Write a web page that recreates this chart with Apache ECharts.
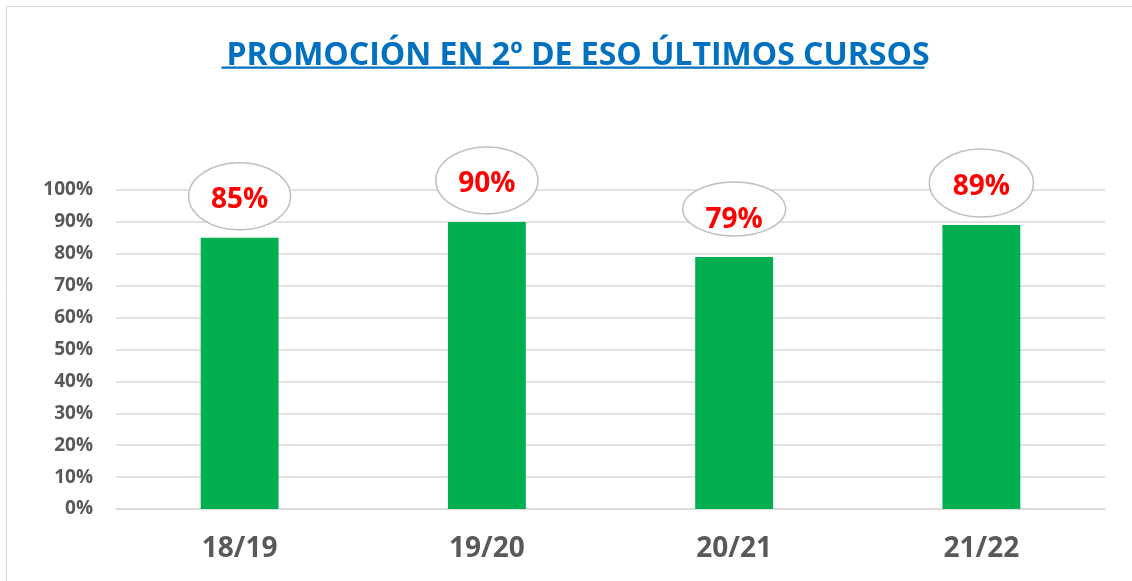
<!DOCTYPE html>
<html>
<head>
<meta charset="utf-8">
<script src="https://cdn.jsdelivr.net/npm/echarts@6/dist/echarts.min.js"></script>
<style>
  html, body { margin: 0; padding: 0; background: #fff; }
  #chart { width: 1132px; height: 581px; }
</style>
</head>
<body>
<div id="chart"></div>
<script>
// ---- data ----
const titleText = 'PROMOCIÓN EN 2º DE ESO ÚLTIMOS CURSOS';
const categories = ['18/19', '19/20', '20/21', '21/22'];
const promotion = [85, 90, 79, 89];

// ---- label ellipse styling (per bar) ----
const ellipseStyle = [
  { rx: 51, ry: 33.5, lift: 41.5, textLift: 41.5 },
  { rx: 51, ry: 33.5, lift: 41.5, textLift: 41.5 },
  { rx: 51.5, ry: 27, lift: 48, textLift: 40 },
  { rx: 52, ry: 34, lift: 42, textLift: 42 }
];

const FONT = '"Open Sans", "Noto Sans", sans-serif';
const chart = echarts.init(document.getElementById('chart'), null, { renderer: 'canvas' });

// measure title width for underline
const cv = document.createElement('canvas').getContext('2d');
cv.font = '700 32px "Open Sans"';
const titleW = cv.measureText(titleText).width;
const titleCX = 573;

const option = {
  backgroundColor: '#ffffff',
  animation: false,
  title: {
    text: titleText,
    left: titleCX,
    top: 35,
    textAlign: 'center',
    textStyle: { color: '#0070C0', fontFamily: FONT, fontWeight: 'bold', fontSize: 32 }
  },
  graphic: [
    {
      type: 'rect', silent: true,
      shape: { x: 6.5, y: 6.5, width: 1300, height: 800 },
      style: { fill: 'none', stroke: '#d9d9d9', lineWidth: 1 }
    },
    {
      type: 'rect', silent: true,
      shape: { x: titleCX - titleW / 2, y: 66.5, width: titleW, height: 2.3 },
      style: { fill: '#0070C0' }
    }
  ],
  grid: { left: 116, right: 27, top: 190, bottom: 72, containLabel: false },
  xAxis: {
    type: 'category',
    data: categories,
    axisLine: { show: true, lineStyle: { color: '#d9d9d9', width: 1.5 } },
    axisTick: { show: false },
    axisLabel: { color: '#595959', fontFamily: FONT, fontWeight: 'bold', fontSize: 28, margin: 26 }
  },
  yAxis: {
    type: 'value',
    min: 0, max: 100, interval: 10,
    axisLine: { show: false },
    axisTick: { show: false },
    splitLine: { lineStyle: { color: '#d9d9d9', width: 1.5 } },
    axisLabel: { formatter: '{value}%', color: '#595959', fontFamily: FONT, fontWeight: 'bold', fontSize: 19, margin: 23 }
  },
  series: [
    {
      type: 'bar',
      data: promotion,
      barWidth: '31.5%',
      itemStyle: { color: '#00B050' }
    },
    {
      type: 'custom',
      z: 10,
      clip: false,
      data: promotion.map((v, i) => [i, v]),
      renderItem: function (params, api) {
        const i = params.dataIndex;
        const s = ellipseStyle[i];
        const p = api.coord([api.value(0), api.value(1)]);
        return {
          type: 'group',
          children: [
            {
              type: 'ellipse',
              shape: { cx: p[0], cy: p[1] - s.lift, rx: s.rx, ry: s.ry },
              style: { fill: '#ffffff', stroke: '#bfbfbf', lineWidth: 1.5 }
            },
            {
              type: 'text',
              style: {
                x: p[0], y: p[1] - s.textLift + 3.5,
                text: api.value(1) + '%',
                fill: '#FF0000',
                font: 'bold 28px ' + FONT,
                align: 'center',
                verticalAlign: 'middle'
              }
            }
          ]
        };
      }
    }
  ]
};
chart.setOption(option);
</script>
</body>
</html>
